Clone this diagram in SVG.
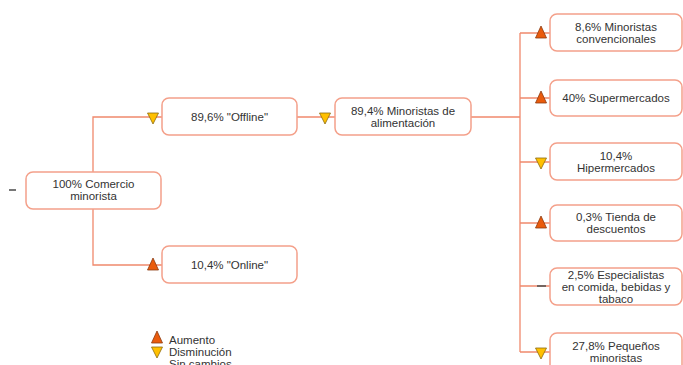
<svg xmlns="http://www.w3.org/2000/svg" width="683" height="365" viewBox="0 0 683 365">
<defs>
<style>
.box{fill:#fff;stroke:#f4a08a;stroke-width:1.5}
.ln{fill:none;stroke:#f0896c;stroke-width:1.3}
.t{font-family:"Liberation Sans",Arial,sans-serif;font-size:11.5px;fill:#333;text-anchor:middle}
.lg{font-family:"Liberation Sans",Arial,sans-serif;font-size:11.5px;fill:#333}
.up{fill:#ea5b0c;stroke:#8a3a10;stroke-width:0.8}
.dn{fill:#ffc000;stroke:#8a6a10;stroke-width:0.8}
.nc{stroke:#555;stroke-width:1.6}
</style>
<path id="tu" d="M-5.5,5 L5.5,5 L0,-7 Z"/>
<path id="td" d="M-5.5,-4 L5.5,-4 L0,7 Z"/>
</defs>
<rect width="683" height="365" fill="#fff"/>
<g id="connectors">
<path class="ln" d="M93,172 V117 H162 M93,209 V265 H162"/>
<path class="ln" d="M297,117 H335"/>
<path class="ln" d="M471,117 H520"/>
<path class="ln" d="M520,33 V352"/>
<path class="ln" d="M520,33 H550 M520,98 H550 M520,162 H550 M520,223 H550 M520,286 H550 M520,352 H550"/>
</g>
<g id="root">
<line class="nc" x1="9" y1="190" x2="16" y2="190"/>
<rect class="box" x="26" y="172" width="135" height="37" rx="7"/>
<text class="t" x="93.5" y="188">100% Comercio</text>
<text class="t" x="93.5" y="200">minorista</text>
</g>
<g id="offline">
<use href="#td" class="dn" x="153" y="117"/>
<rect class="box" x="162" y="98" width="135" height="37" rx="7"/>
<text class="t" x="229.5" y="121">89,6% "Offline"</text>
</g>
<g id="online">
<use href="#tu" class="up" x="153" y="265"/>
<rect class="box" x="162" y="246" width="135" height="37" rx="7"/>
<text class="t" x="229.5" y="269">10,4% "Online"</text>
</g>
<g id="alimentacion">
<use href="#td" class="dn" x="325" y="117"/>
<rect class="box" x="335" y="98" width="136" height="37" rx="7"/>
<text class="t" x="403" y="115">89,4% Minoristas de</text>
<text class="t" x="403" y="127">alimentación</text>
</g>
<g id="convencionales">
<use href="#tu" class="up" x="541" y="33"/>
<rect class="box" x="550" y="14" width="132" height="37" rx="7"/>
<text class="t" x="616" y="31">8,6% Minoristas</text>
<text class="t" x="616" y="43">convencionales</text>
</g>
<g id="supermercados">
<use href="#tu" class="up" x="541" y="98"/>
<rect class="box" x="550" y="80" width="132" height="36" rx="7"/>
<text class="t" x="616" y="102">40% Supermercados</text>
</g>
<g id="hipermercados">
<use href="#td" class="dn" x="541" y="162"/>
<rect class="box" x="550" y="143" width="132" height="37" rx="7"/>
<text class="t" x="616" y="160">10,4%</text>
<text class="t" x="616" y="172">Hipermercados</text>
</g>
<g id="descuentos">
<use href="#tu" class="up" x="541" y="223"/>
<rect class="box" x="550" y="205" width="132" height="36" rx="7"/>
<text class="t" x="616" y="221">0,3% Tienda de</text>
<text class="t" x="616" y="233">descuentos</text>
</g>
<g id="especialistas">
<line class="nc" x1="537" y1="286" x2="546" y2="286"/>
<rect class="box" x="550" y="268" width="132" height="37" rx="7"/>
<text class="t" x="616" y="279">2,5% Especialistas</text>
<text class="t" x="616" y="291">en comida, bebidas y</text>
<text class="t" x="616" y="303">tabaco</text>
</g>
<g id="pequenos">
<use href="#td" class="dn" x="541" y="352"/>
<rect class="box" x="550" y="333" width="132" height="42" rx="7"/>
<text class="t" x="616" y="350">27,8% Pequeños</text>
<text class="t" x="616" y="362">minoristas</text>
</g>
<g id="legend">
<use href="#tu" class="up" x="157" y="338"/>
<text class="lg" x="169" y="344">Aumento</text>
<use href="#td" class="dn" x="157" y="351"/>
<text class="lg" x="169" y="356">Disminución</text>
<line class="nc" x1="153" y1="366" x2="162" y2="366"/>
<text class="lg" x="169" y="368">Sin cambios</text>
</g>
</svg>
